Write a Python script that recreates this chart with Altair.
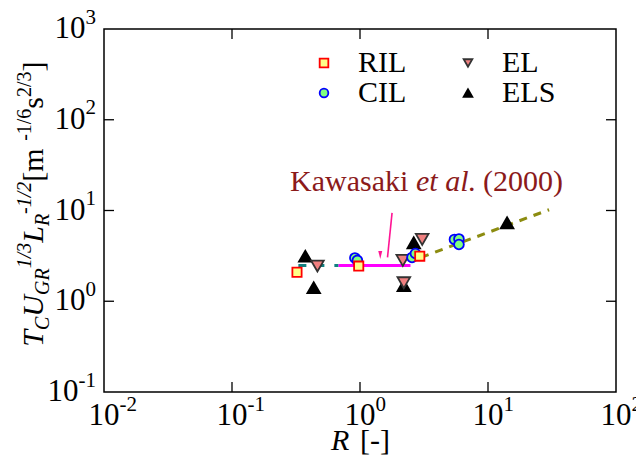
import altair as alt
import pandas as pd

FONT = "Liberation Serif"
W, H = 512, 363

# ---------------- data ----------------
series_order = ["RIL", "EL", "CIL", "ELS"]

ril_R = [0.322, 0.977, 2.93]
ril_Y = [2.09, 2.44, 3.14]
cil_R = [0.912, 0.954, 2.55, 2.71, 5.47, 5.93, 5.93]
cil_Y = [3.00, 2.82, 3.04, 3.36, 4.80, 4.86, 4.22]
el_R = [0.465, 2.16, 2.20, 3.06]
el_Y = [2.44, 2.82, 1.60, 4.80]
els_R = [0.374, 0.435, 2.63, 2.20, 14.1]
els_Y = [3.14, 1.41, 4.41, 1.49, 7.32]

kaw_solid_R = [0.68, 2.48]
kaw_solid_Y = [2.48, 2.48]
kaw_dash_R = [0.33, 0.68]
kaw_dash_Y = [2.48, 2.48]
trend_R = [3.0, 30.0]
trend_Y = [3.04, 10.2]
arrow_R = [1.78, 1.64]
arrow_Y = [9.43, 3.04]
arrowhead_R = [1.44]
arrowhead_Y = [3.24]

x_ticks = [0.01, 0.1, 1, 10, 100]
x_exps = ["-2", "-1", "0", "1", "2"]
y_ticks = [0.1, 1, 10, 100, 1000]
y_exps = ["-1", "0", "1", "2", "3"]

# ---------------- scales ----------------
xs = alt.Scale(type="log", domain=[0.01, 100], nice=False)
ys = alt.Scale(type="log", domain=[0.1, 1000], nice=False)


def XQ(f):
    return alt.X(f + ":Q", scale=xs, axis=None)


def YQ(f):
    return alt.Y(f + ":Q", scale=ys, axis=None)


def line_layer(R, Y, **kw):
    df = pd.DataFrame({"R": R, "Y": Y})
    return alt.Chart(df).mark_line(**kw).encode(x=XQ("R"), y=YQ("Y"))


layers = []
layers.append(line_layer(kaw_dash_R, kaw_dash_Y, color="#108080", strokeWidth=3, strokeDash=[8, 10]))
layers.append(line_layer(kaw_solid_R, kaw_solid_Y, color="#FF00FF", strokeWidth=3))
layers.append(line_layer(trend_R, trend_Y, color="#8C8C10", strokeWidth=3, strokeDash=[8, 7]))
layers.append(line_layer(arrow_R, arrow_Y, color="#FF1493", strokeWidth=1.6))
layers.append(
    alt.Chart(pd.DataFrame({"R": arrowhead_R, "Y": arrowhead_Y}))
    .mark_point(shape="M-0.5,-1L0.5,-1L0,1Z", filled=True, color="#FF1493", size=64, opacity=1)
    .encode(x=XQ("R"), y=YQ("Y"))
)

# points: one layer per series (drawing order ELS, EL, CIL, RIL), shared legend
leg = alt.Legend(
    orient="none", legendX=205, legendY=19, columns=2, title=None, direction="horizontal",
    labelFont=FONT, labelFontSize=30, labelColor="black", labelOffset=19,
    symbolSize=75, symbolStrokeWidth=1.8, columnPadding=46, rowPadding=-1.5,
)
shape_sc = alt.Scale(domain=series_order, range=["square", "triangle-down", "circle", "triangle-up"])
fill_sc = alt.Scale(domain=series_order, range=["#FFFF88", "#F08080", "#80FF80", "#000000"])
stroke_sc = alt.Scale(domain=series_order, range=["#FF0000", "#333333", "#0000FF", "#000000"])
sizes = {"RIL": 85, "EL": 160, "CIL": 95, "ELS": 160}

for name, R, Y in [("ELS", els_R, els_Y), ("EL", el_R, el_Y), ("CIL", cil_R, cil_Y), ("RIL", ril_R, ril_Y)]:
    df = pd.DataFrame({"series": [name] * len(R), "R": R, "Y": Y})
    layers.append(
        alt.Chart(df).mark_point(opacity=1, strokeWidth=1.8, size=sizes[name]).encode(
            x=XQ("R"), y=YQ("Y"),
            shape=alt.Shape("series:N", scale=shape_sc, legend=leg),
            fill=alt.Fill("series:N", scale=fill_sc, legend=leg),
            stroke=alt.Stroke("series:N", scale=stroke_sc, legend=leg),
        )
    )

# ---------------- inward ticks ----------------
xt = pd.DataFrame({"v": x_ticks[1:-1]})
yt = pd.DataFrame({"v": y_ticks[1:-1]})
TL = 10
rule = dict(color="black", strokeWidth=1.3)
layers.append(alt.Chart(xt).mark_rule(**rule).encode(x=XQ("v"), y=alt.value(H), y2=alt.value(H - TL)))
layers.append(alt.Chart(xt).mark_rule(**rule).encode(x=XQ("v"), y=alt.value(0), y2=alt.value(TL)))
layers.append(alt.Chart(yt).mark_rule(**rule).encode(y=YQ("v"), x=alt.value(0), x2=alt.value(TL)))
layers.append(alt.Chart(yt).mark_rule(**rule).encode(y=YQ("v"), x=alt.value(W), x2=alt.value(W - TL)))

# ---------------- tick labels ----------------
BIG, SMALL = 31, 21
xl = pd.DataFrame({"v": x_ticks, "e": x_exps})
layers.append(
    alt.Chart(xl).mark_text(font=FONT, fontSize=BIG, align="center", baseline="alphabetic", color="black")
    .encode(x=XQ("v"), y=alt.value(H + 33), text=alt.value("10"))
)
layers.append(
    alt.Chart(xl).mark_text(font=FONT, fontSize=SMALL, align="left", baseline="alphabetic", dx=15.5, color="black")
    .encode(x=XQ("v"), y=alt.value(H + 19), text="e:N")
)
for v, e in zip(y_ticks, y_exps):
    d = pd.DataFrame({"v": [v], "e": [e]})
    ew = SMALL * (0.5 * sum(c.isdigit() for c in e) + 0.333 * e.count("-"))
    layers.append(
        alt.Chart(d).mark_text(font=FONT, fontSize=SMALL, align="right", baseline="alphabetic", dy=-5.5, color="black")
        .encode(y=YQ("v"), x=alt.value(-8), text="e:N")
    )
    layers.append(
        alt.Chart(d).mark_text(font=FONT, fontSize=BIG, align="right", baseline="alphabetic", dy=9, color="black")
        .encode(y=YQ("v"), x=alt.value(-8 - ew), text=alt.value("10"))
    )

# ---------------- axis titles ----------------
layers.append(
    alt.Chart(pd.DataFrame({"t": ["R"]})).mark_text(font=FONT, fontSize=30, fontStyle="italic", align="left",
                                                     baseline="alphabetic", color="black")
    .encode(x=alt.value(227), y=alt.value(421), text="t:N")
)
layers.append(
    alt.Chart(pd.DataFrame({"t": ["[-]"]})).mark_text(font=FONT, fontSize=30, align="left",
                                                       baseline="alphabetic", color="black")
    .encode(x=alt.value(256), y=alt.value(421), text="t:N")
)

WID = {
    (False, "0"): .5, (False, "1"): .5, (False, "2"): .5, (False, "3"): .5, (False, "6"): .5,
    (False, "/"): .278, (False, "-"): .333, (False, "["): .333, (False, "]"): .333,
    (False, "m"): .778, (False, "s"): .389, (False, " "): .25,
    (True, "T"): .556, (True, "C"): .667, (True, "U"): .722, (True, "G"): .722, (True, "R"): .611,
    (True, "L"): .556, (True, "1"): .5, (True, "2"): .5, (True, "3"): .5, (True, "/"): .278, (True, "-"): .333,
}
MAIN, SUBSZ = 30, 20
pieces = [
    ("T", True, "main"), ("C", True, "sub"), ("U", True, "main"), ("GR", True, "sub"),
    ("1/3", True, "sup"), ("L", True, "main"), ("R", True, "sub"), ("-1/2", True, "sup"),
    (" [m", False, "main"), ("-1/6", False, "sup"), ("s", False, "main"), ("2/3", False, "sup"),
    ("]", False, "main"),
]
base_x = {"main": -61, "sub": -55, "sup": -73}
ypos = 317.7
for txt, it, kind in pieces:
    fs = MAIN if kind == "main" else SUBSZ
    w = fs * sum(WID[(it, c)] for c in txt)
    kw = dict(font=FONT, fontSize=fs, angle=270, align="left", baseline="alphabetic", color="black")
    if it:
        kw["fontStyle"] = "italic"
    layers.append(
        alt.Chart(pd.DataFrame({"t": [txt]})).mark_text(**kw)
        .encode(x=alt.value(base_x[kind]), y=alt.value(ypos), text="t:N")
    )
    ypos -= w

# ---------------- annotation ----------------
ann = [("Kawasaki", False, 186), ("et al", True, 312), (". (2000)", False, 364)]
for txt, it, xp in ann:
    kw = dict(font=FONT, fontSize=30, align="left", baseline="alphabetic", color="#8B1A1A")
    if it:
        kw["fontStyle"] = "italic"
    layers.append(
        alt.Chart(pd.DataFrame({"t": [txt]})).mark_text(**kw)
        .encode(x=alt.value(xp), y=alt.value(162.4), text="t:N")
    )

chart = (
    alt.layer(*layers)
    .properties(width=W, height=H, autosize=alt.AutoSizeParams(type="none"),
                padding={"left": 96, "top": 21, "right": 20, "bottom": 64})
    .configure_view(stroke="black", strokeWidth=1.5)
)

chart.save("out.html", embed_options={"renderer": "svg", "actions": False})
